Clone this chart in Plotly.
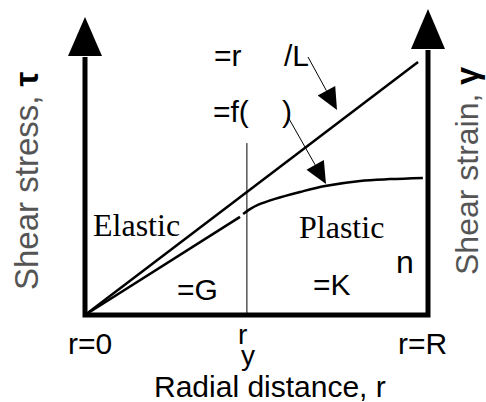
import numpy as np
import plotly.graph_objects as go

# ---- data (normalised radius r/R, normalised stress/strain) ----
r_gamma = [0.0, 0.971]            # shear strain, linear in r
gamma_vals = [0.0, 0.843]

r_elastic = [0.0, 0.452]          # elastic stress, tau = G*gamma
tau_elastic = [0.0, 0.327]

r_plastic = [0.461, 0.481, 0.504, 0.554, 0.627, 0.700, 0.802, 0.889, 0.985]
tau_plastic = [0.337, 0.353, 0.367, 0.387, 0.410, 0.430, 0.447, 0.453, 0.457]

r_yield = 0.472
yield_line_top = 0.573

tick_labels = ["r=0", "r=R"]
tick_pos = [0.015, 0.983]

# ---- canvas: the whole page is the plotting area ----
W, H = 486, 402
X0_PX, Y0_PX = 85, 315          # pixel position of the origin
SX, SY = 343.0, 300.0           # pixels per data unit


def px2x(px):
    return (px - X0_PX) / SX


def px2y(py):
    return (Y0_PX - py) / SY


SANS = "Liberation Sans, Arial, sans-serif"
SERIF = "Liberation Serif, Times New Roman, serif"

fig = go.Figure()

# frame: left axis, bottom axis, right axis
left_top = px2y(57)
right_top = px2y(50)
fig.add_trace(go.Scatter(
    x=[0, 0, 1, 1], y=[left_top, 0, 0, right_top], mode="lines",
    line=dict(color="black", width=5), hoverinfo="skip", showlegend=False))


# axis arrowheads
def tri_path(xtip, ytip, ybase, half_px):
    hw = half_px / SX
    return (f"M {xtip - hw},{ybase} L {xtip},{ytip} L {xtip + hw},{ybase} Z")


fig.add_shape(type="path", path=tri_path(0, px2y(17), left_top + 0.003, 17),
              fillcolor="black", line=dict(width=0))
fig.add_shape(type="path", path=tri_path(1, px2y(9), right_top + 0.003, 17),
              fillcolor="black", line=dict(width=0))

# yield radius marker
fig.add_trace(go.Scatter(
    x=[r_yield, r_yield], y=[0, yield_line_top], mode="lines",
    line=dict(color="black", width=1), hoverinfo="skip", showlegend=False))

# strain line
fig.add_trace(go.Scatter(
    x=r_gamma, y=gamma_vals, mode="lines",
    line=dict(color="black", width=2.5), hoverinfo="skip", showlegend=False))

# stress: elastic part and plastic part
fig.add_trace(go.Scatter(
    x=r_elastic, y=tau_elastic, mode="lines",
    line=dict(color="black", width=2.5), hoverinfo="skip", showlegend=False))
fig.add_trace(go.Scatter(
    x=r_plastic, y=tau_plastic, mode="lines", line_shape="spline",
    line=dict(color="black", width=2.5), hoverinfo="skip", showlegend=False))


# pointer arrows (thin shaft + filled head), geometry in pixels
def pointer(tail, tip, head_len=22, head_half=10):
    tail = np.array(tail, float)
    tip = np.array(tip, float)
    d = tip - tail
    d /= np.hypot(*d)
    n = np.array([-d[1], d[0]])
    base = tip - d * head_len
    c1 = base + n * head_half
    c2 = base - n * head_half
    fig.add_trace(go.Scatter(
        x=[px2x(tail[0]), px2x(base[0])], y=[px2y(tail[1]), px2y(base[1])],
        mode="lines", line=dict(color="black", width=1),
        hoverinfo="skip", showlegend=False))
    pts = [c1, tip, c2]
    path = "M " + " L ".join(f"{px2x(p[0])},{px2y(p[1])}" for p in pts) + " Z"
    fig.add_shape(type="path", path=path, fillcolor="black", line=dict(width=0))


pointer((308, 57), (337, 110))
pointer((288, 117), (326, 184))


def label(text, px, py, size=30, family=SANS, xanchor="center", color="black",
          angle=0):
    fig.add_annotation(x=px2x(px), y=px2y(py), text=text, showarrow=False,
                       xanchor=xanchor, yanchor="middle", textangle=angle,
                       font=dict(family=family, size=size, color=color))


# equations (Greek symbols missing from the source font)
label("=r", 212, 55, xanchor="left")
label("/L", 282, 55, xanchor="left")
label("=f(", 211, 111, xanchor="left")
label(")", 280, 111, xanchor="left")
label("=G", 175, 289, xanchor="left")
label("=K", 311, 284, xanchor="left")
label("n", 394, 262, size=32, xanchor="left")

# region names
label("Elastic", 91, 225, size=32, family=SERIF, xanchor="left")
label("Plastic", 297, 227, size=32, family=SERIF, xanchor="left")

# radial positions
for t, pos in zip(tick_labels, tick_pos):
    label(t, X0_PX + pos * SX, 343)
label("r", 242, 334, size=28)
label("y", 248, 355, size=28)
label("Radial distance, r", 270, 386, size=30)

# axis titles
label("Shear stress, <span style='color:black'><b>τ</b></span>", 26, 181,
      size=33, color="#555", angle=-90)
label("Shear strain, <span style='color:black'><b>γ</b></span>", 467, 171,
      size=32, color="#555", angle=-90)

fig.update_layout(
    width=W, height=H,
    margin=dict(l=0, r=0, t=0, b=0),
    paper_bgcolor="white", plot_bgcolor="white",
    xaxis=dict(range=[px2x(0), px2x(W)], visible=False, fixedrange=True),
    yaxis=dict(range=[px2y(H), px2y(0)], visible=False, fixedrange=True),
    showlegend=False,
)

fig.write_html("out.html")
